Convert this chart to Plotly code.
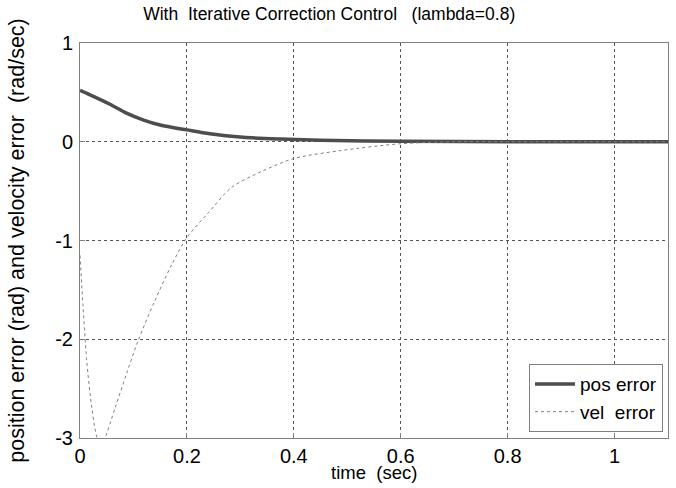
import plotly.graph_objects as go

# position error data
t_pos = [0, 0.025, 0.056, 0.087, 0.119, 0.15, 0.2, 0.243, 0.305, 0.375, 0.45, 0.6, 0.8, 1.1]
pos_err = [0.52, 0.46, 0.38, 0.29, 0.22, 0.17, 0.12, 0.08, 0.045, 0.027, 0.015, 0.005, 0.0, 0.0]

# velocity error data
t_vel = [0, 0.0125, 0.022, 0.032, 0.04, 0.047, 0.066, 0.087, 0.109, 0.14, 0.172, 0.2,
         0.24, 0.284, 0.34, 0.4, 0.487, 0.6, 0.7, 0.8, 1.1]
vel_err = [-1.15, -2.21, -2.69, -3.0, -3.08, -3.0, -2.69, -2.35, -2.01, -1.61, -1.24, -0.97,
           -0.72, -0.46, -0.3, -0.17, -0.09, -0.02, 0.0, 0.0, 0.0]

x_ticks = [0, 0.2, 0.4, 0.6, 0.8, 1]
x_labels = ["0", "0.2", "0.4", "0.6", "0.8", "1"]
y_ticks = [-3, -2, -1, 0, 1]
y_labels = ["-3", "-2", "-1", "0", "1"]

FONT = "Arial, Liberation Sans, sans-serif"

fig = go.Figure()
fig.add_trace(go.Scatter(x=t_pos, y=pos_err, mode="lines", name="pos error",
                         line=dict(color="#4d4d4d", width=3.5, shape="spline", smoothing=0.8)))
fig.add_trace(go.Scatter(x=t_vel, y=vel_err, mode="lines", name="vel  error",
                         line=dict(color="#808080", width=1, dash="dot", shape="spline", smoothing=0.8)))

axis_common = dict(showline=True, mirror=True, linecolor="#808080", linewidth=1,
                   showgrid=True, gridcolor="#555555", griddash="dot", gridwidth=1,
                   zeroline=False, ticks="inside", ticklen=5, tickcolor="#808080",
                   automargin=False,
                   tickfont=dict(family=FONT, size=20, color="#000"))

fig.update_xaxes(range=[0, 1.1], tickvals=x_ticks, ticktext=x_labels,
                 ticklabelstandoff=0,
                 **axis_common)
fig.update_yaxes(range=[-3, 1], tickvals=y_ticks, ticktext=y_labels,
                 ticklabelstandoff=2,
                 title=dict(text="position error (rad) and velocity error  (rad/sec)",
                            font=dict(family=FONT, size=21.5, color="#000"), standoff=24),
                 **axis_common)

fig.add_annotation(text="time  (sec)", xref="paper", yref="paper",
                   x=0.5, y=-(472 - 438) / 395, xanchor="center", yanchor="middle",
                   showarrow=False, font=dict(family=FONT, size=18.5, color="#000"))

fig.update_layout(
    width=676, height=488,
    margin=dict(l=80, r=8, t=43, b=50),
    paper_bgcolor="white", plot_bgcolor="white",
    title=dict(text="With  Iterative Correction Control   (lambda=0.8)",
               font=dict(family=FONT, size=17.5, color="#000"),
               x=0.487, xanchor="center", xref="container",
               y=1 - 8 / 488, yanchor="top", yref="container"),
    legend=dict(x=0.9915, xanchor="right", y=0.015, yanchor="bottom",
                bgcolor="white", bordercolor="#808080", borderwidth=1,
                tracegroupgap=0, itemwidth=40,
                font=dict(family=FONT, size=19, color="#000")),
    showlegend=True,
)

fig.write_html("out.html", config={"displayModeBar": False},
               post_script="document.body.style.margin='0';")
